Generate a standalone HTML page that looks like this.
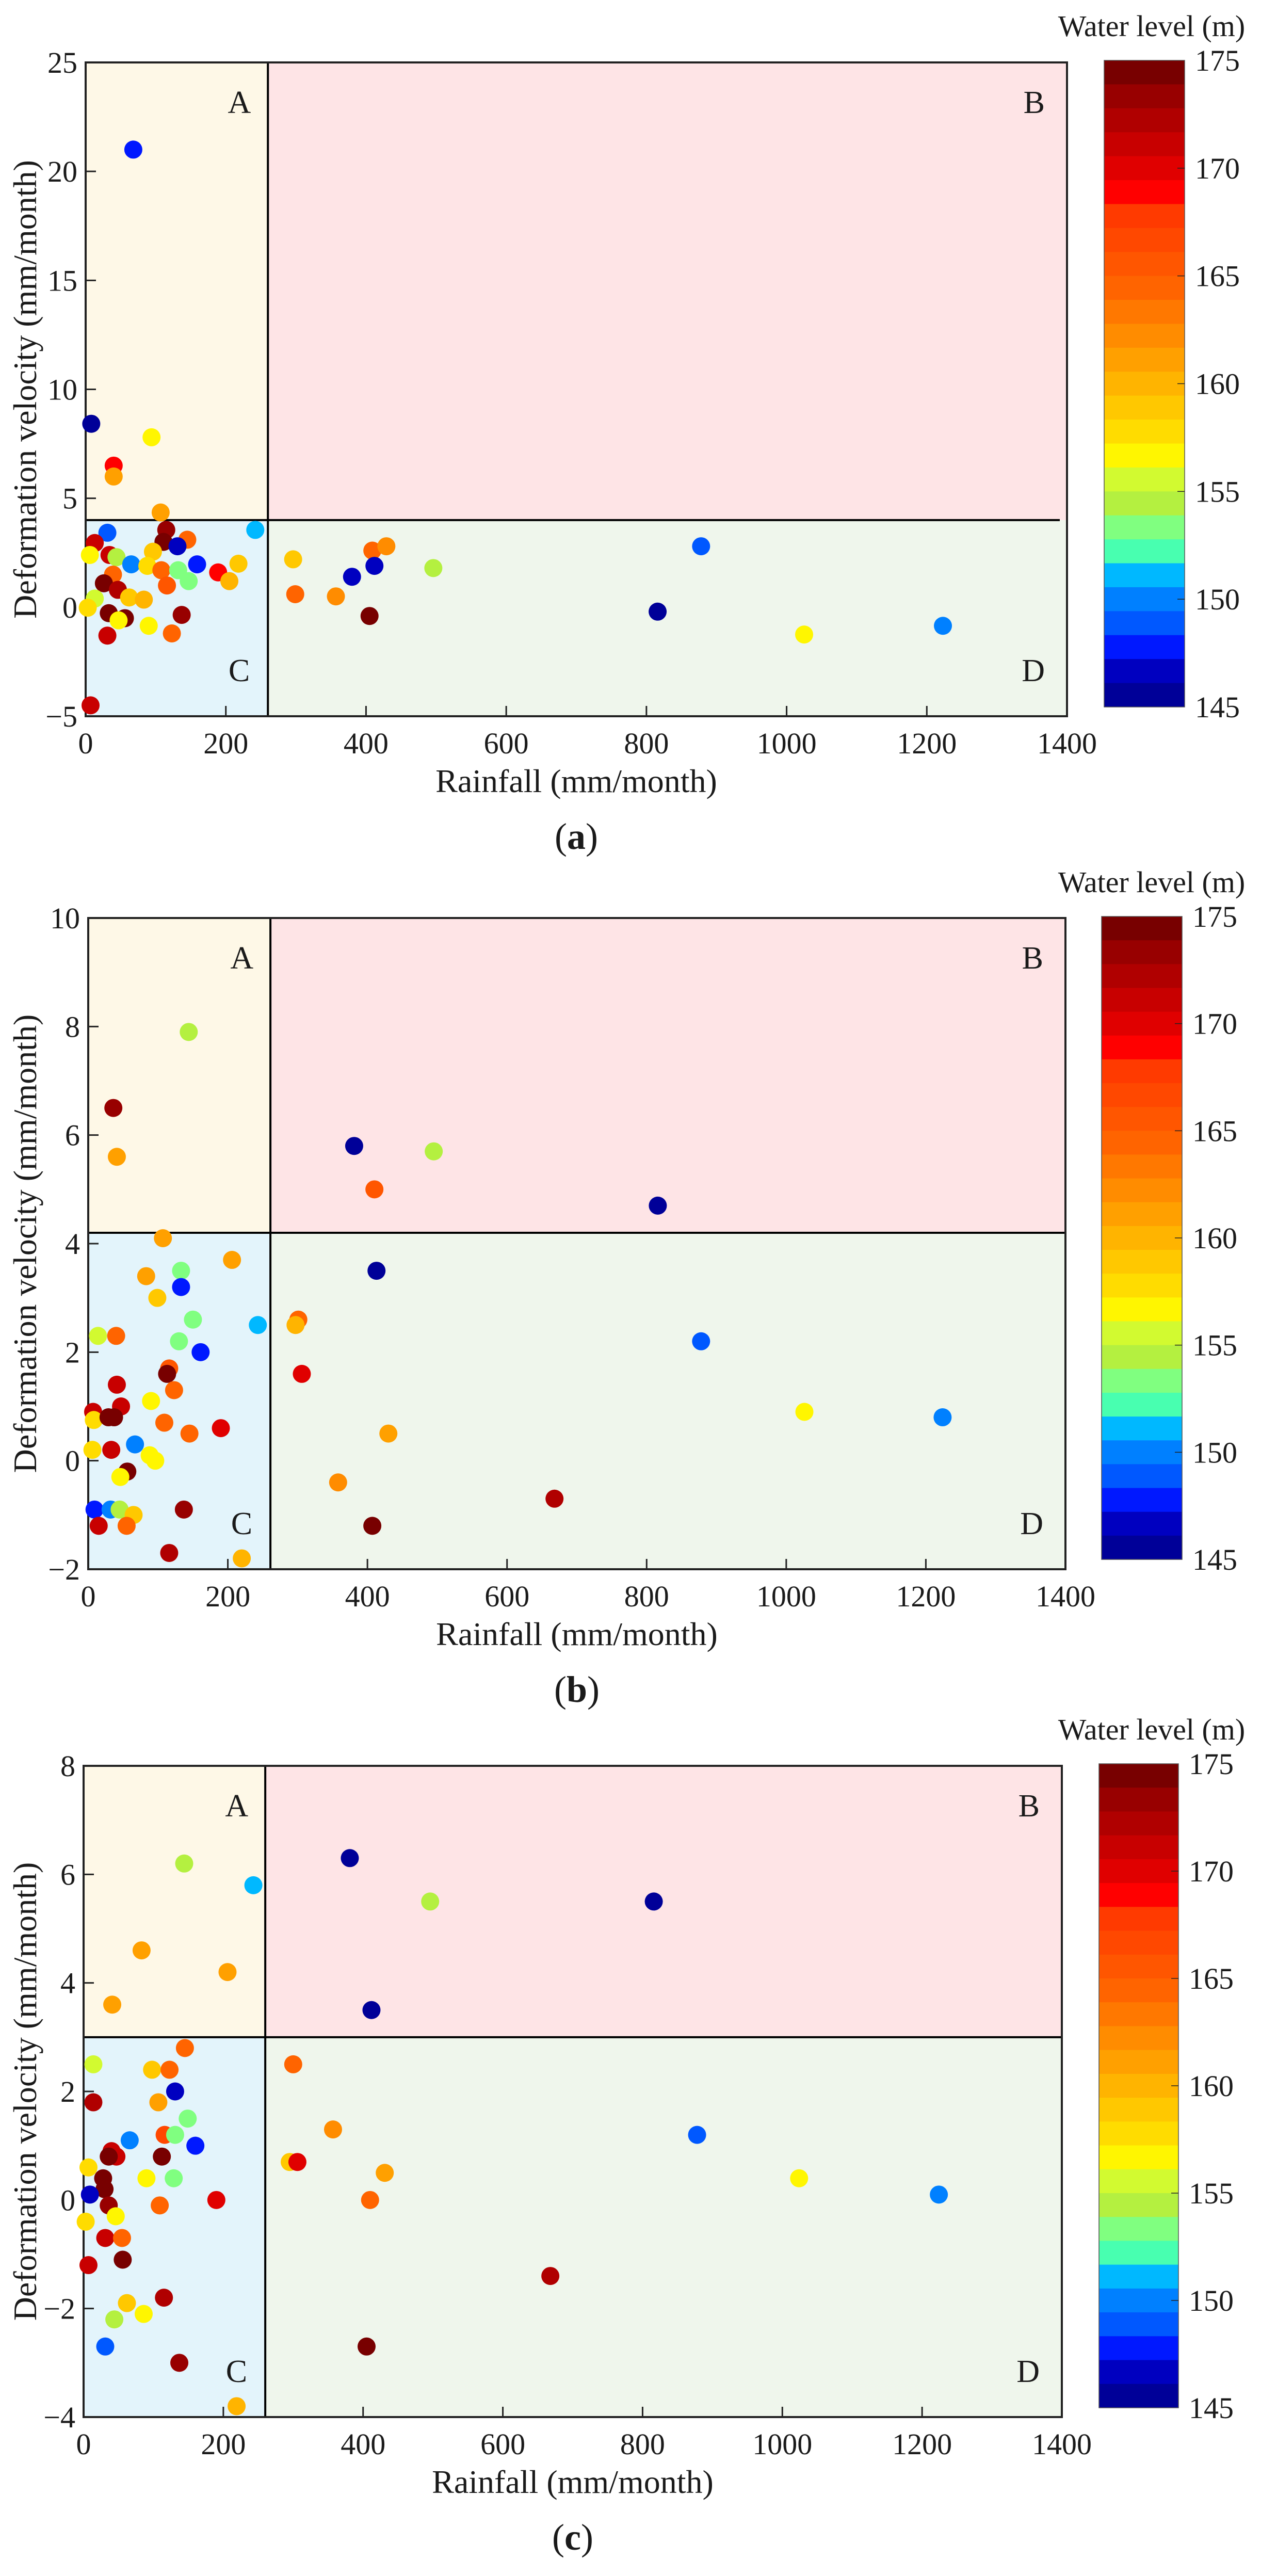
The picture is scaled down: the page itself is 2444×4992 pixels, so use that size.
<!DOCTYPE html>
<html><head><meta charset="utf-8">
<style>
html,body{margin:0;padding:0;background:#fff;}
svg{display:block;}
text{font-family:"Liberation Serif",serif;fill:#1a1a1a;}
</style></head>
<body>
<svg id="fig" width="2444" height="4992" viewBox="0 0 2444 4992" xmlns="http://www.w3.org/2000/svg" font-family="Liberation Serif, serif"></svg>
<script>
// ---- Panel (a) data ----
const rainA=[68,8,94,40,40,107,115,31,145,13,111,131,242,6,34,44,96,65,159,218,88,108,132,147,39,189,26,46,116,205,62,83,13,3,33,56,47,137,90,31,123,7,296,409,429,412,380,496,299,357,405,878,816,1025,1223];
const velA=[21.0,8.42,7.8,6.5,6.0,4.35,3.55,3.42,3.1,2.95,3.0,2.8,3.55,2.4,2.4,2.3,2.55,1.97,1.97,2.0,1.9,1.7,1.7,1.2,1.5,1.6,1.1,0.8,1.0,1.2,0.45,0.35,0.4,-0.02,-0.27,-0.5,-0.6,-0.35,-0.85,-1.3,-1.2,-4.5,2.2,2.6,2.8,1.9,1.4,1.8,0.6,0.5,-0.4,2.8,-0.2,-1.25,-0.85];
const levelA=[148,146,157,169,161,161,173,149,165,171,174,147,151,157,171,155,159,150,148,159,158,165,153,153,165,169,174,172,166,160,159,160,156,158,174,174,157,173,157,171,165,171,159,165,162,147,147,155,164,162,175,149,146,157,150];
// ---- Panel (b) data ----
const rainB=[144,36,41,381,495,410,816,107,206,83,133,133,99,150,243,14,40,130,161,116,113,41,123,90,47,7,8,29,37,109,190,145,67,6,33,88,96,56,46,9,32,45,65,137,15,55,116,220,413,301,297,306,430,358,407,668,878,1026,1224];
const velB=[7.9,6.5,5.6,5.8,5.7,5.0,4.7,4.1,3.7,3.4,3.5,3.2,3.0,2.6,2.5,2.3,2.3,2.2,2.0,1.7,1.6,1.4,1.3,1.1,1.0,0.9,0.75,0.8,0.8,0.7,0.6,0.5,0.3,0.2,0.2,0.1,0.0,-0.2,-0.3,-0.9,-0.9,-0.9,-1.0,-0.9,-1.2,-1.2,-1.7,-1.8,3.5,2.6,2.5,1.6,0.5,-0.4,-1.2,-0.7,2.2,0.9,0.8];
const levelB=[155,173,161,146,155,166,146,161,161,161,153,148,159,153,151,156,165,153,148,166,174,171,165,157,171,171,158,174,174,165,170,165,150,158,171,157,157,174,157,148,150,154,159,173,171,165,172,160,146,165,160,170,161,162,175,172,149,157,150];
// ---- Panel (c) data ----
const rainC=[144,243,83,206,41,381,496,816,412,145,14,98,123,131,14,107,149,116,131,66,160,40,47,36,112,7,28,90,129,30,9,36,109,190,46,3,31,55,56,7,115,62,86,44,31,137,219,300,357,295,306,431,410,405,668,878,1024,1224];
const velC=[6.2,5.8,4.6,4.2,3.6,6.3,5.5,5.5,3.5,2.8,2.5,2.4,2.4,2.0,1.8,1.8,1.5,1.2,1.2,1.1,1.0,0.9,0.8,0.8,0.8,0.6,0.4,0.4,0.4,0.2,0.1,-0.1,-0.1,0.0,-0.3,-0.4,-0.7,-0.7,-1.1,-1.2,-1.8,-1.9,-2.1,-2.2,-2.7,-3.0,-3.8,2.5,1.3,0.7,0.7,0.5,0.0,-2.7,-1.4,1.2,0.4,0.1];
const levelC=[155,151,161,161,161,146,155,146,146,165,156,159,165,147,172,161,153,167,153,150,148,171,171,174,174,158,174,157,153,174,147,173,165,170,157,158,171,165,174,171,172,159,157,155,149,173,160,165,162,159,170,161,165,175,172,149,157,150];
// ---- Axis ticks ----
const xTicks=[0,200,400,600,800,1000,1200,1400];
const yTicksA=[-5,0,5,10,15,20,25];
const yTicksB=[-2,0,2,4,6,8,10];
const yTicksC=[-4,-2,0,2,4,6,8];
const cbTicks=[145,150,155,160,165,170,175];
const cbColors=['#780000','#980000','#b00000','#c80000','#e00000','#ff0000','#ff3a00','#ff4800','#ff5600','#ff6400','#ff7800','#ff8c00','#ffa000','#ffb400','#ffc800','#ffdc00','#fff600','#d2fa30','#b4f040','#80ff80','#48ffb0','#00b8ff','#0080ff','#0058ff','#0018ff','#0000c0','#000098'];

const NS='http://www.w3.org/2000/svg';
const svg=document.getElementById('fig');
function mk(tag,attrs,parent){const e=document.createElementNS(NS,tag);for(const k in attrs)e.setAttribute(k,attrs[k]);(parent||svg).appendChild(e);return e;}
function colorFor(v){let i=Math.floor((175-v)/30*cbColors.length);if(i<0)i=0;if(i>=cbColors.length)i=cbColors.length-1;return cbColors[i];}

function panel(cfg){
  const g=mk('g',{});
  
  
  const L=cfg.L,R=cfg.R,T=cfg.T,B=cfg.B;
  const sx=v=>L+(v-0)/(1400-0)*(R-L);
  const sy=v=>B-(v-cfg.ymin)/(cfg.ymax-cfg.ymin)*(B-T);
  const xd=sx(cfg.xdiv),yd=sy(cfg.ydiv);
  const quads=[['quadrant-a',L,T,xd-L,yd-T,'#fef8e7'],['quadrant-b',xd,T,R-xd,yd-T,'#fee4e6'],['quadrant-c',L,yd,xd-L,B-yd,'#e3f4fb'],['quadrant-d',xd,yd,R-xd,B-yd,'#eff6ec']];
  quads.forEach(q=>{const r=mk('rect',{x:q[1],y:q[2],width:q[3],height:q[4],fill:q[5]},g);
    
    });
  xTicks.forEach(t=>{const x=sx(t);
    const l=mk('line',{x1:x,y1:B,x2:x,y2:B-20,stroke:'#222','stroke-width':3},g);
    
    
    const tx=mk('text',{x:x,y:B+72,'font-size':58,'text-anchor':'middle'},g);tx.textContent=t;
    
    });
  cfg.yTicks.forEach(t=>{const y=sy(t);
    const l=mk('line',{x1:L,y1:y,x2:L+20,y2:y,stroke:'#222','stroke-width':3},g);
    
    
    const tx=mk('text',{x:L-16,y:y+20,'font-size':58,'text-anchor':'end'},g);tx.textContent=(t<0?'\u2212'+(-t):t);
    
    });
  const v=mk('line',{x1:xd,y1:T,x2:xd,y2:B,stroke:'#000','stroke-width':4},g);
  
  
  const h=mk('line',{x1:L,y1:yd,x2:R-cfg.hshort,y2:yd,stroke:'#000','stroke-width':4},g);
  
  
  const fr=mk('rect',{x:L,y:T,width:R-L,height:B-T,fill:'none',stroke:'#222','stroke-width':4},g);
  
  
  [['A',xd-33,T+98],['B',R-43,T+98],['C',xd-35,B-68],['D',R-43,B-68]].forEach(a=>{
    const t=mk('text',{x:a[1],y:a[2],'font-size':62,'text-anchor':'end'},g);t.textContent=a[0];
    
    });
  cfg.rain.forEach((r,i)=>{
    const c=mk('circle',{cx:sx(r),cy:sy(cfg.vel[i]),r:17.5,fill:colorFor(cfg.level[i])},g);
    
    });
  const xt=mk('text',{x:(L+R)/2,y:B+147,'font-size':64,'text-anchor':'middle'},g);xt.textContent='Rainfall (mm/month)';
  
  
  const yc=(T+B)/2;
  const yt=mk('text',{x:70,y:yc,'font-size':64,'text-anchor':'middle',transform:'rotate(-90 70 '+yc+')'},g);yt.textContent='Deformation velocity (mm/month)';
  
  
  const pl=mk('text',{x:(L+R)/2,y:B+257,'font-size':72,'text-anchor':'middle'},g);
  
  
  const s1=mk('tspan',{},pl);s1.textContent='(';
  const s2=mk('tspan',{'font-weight':'bold'},pl);s2.textContent=cfg.id;
  const s3=mk('tspan',{},pl);s3.textContent=')';
  const cb=cfg.cb;const n=cbColors.length;const bh=(cb.bot-cb.top)/n;
  const cg=mk('g',{},g);
  
  
  cbColors.forEach((col,i)=>{const r=mk('rect',{x:cb.x,y:cb.top+i*bh,width:cb.w,height:bh+0.6,fill:col},cg);
    
    });
  mk('rect',{x:cb.x,y:cb.top,width:cb.w,height:cb.bot-cb.top,fill:'none',stroke:'#555','stroke-width':1.5},cg);
  cbTicks.forEach(t=>{const y=cb.bot-(t-145)/30*(cb.bot-cb.top);
    if(t>145&&t<175)mk('line',{x1:cb.x+cb.w-14,y1:y,x2:cb.x+cb.w,y2:y,stroke:'#222','stroke-width':1.5},cg);
    const tx=mk('text',{x:cb.x+cb.w+20,y:y+20,'font-size':58},cg);tx.textContent=t;
    
    });
  const ct=mk('text',{x:2232,y:cb.top-47,'font-size':58,'text-anchor':'middle'},cg);ct.textContent='Water level (m)';
  
  
}

panel({id:'a',L:166,R:2068,T:121,B:1388,ymin:-5,ymax:25,yTicks:yTicksA,xdiv:260,ydiv:4,hshort:14,rain:rainA,vel:velA,level:levelA,cb:{x:2140,w:156,top:117,bot:1370}});
panel({id:'b',L:171,R:2065,T:1779,B:3041,ymin:-2,ymax:10,yTicks:yTicksB,xdiv:261,ydiv:4.2,hshort:0,rain:rainB,vel:velB,level:levelB,cb:{x:2135,w:156,top:1776,bot:3022}});
panel({id:'c',L:162,R:2058,T:3422,B:4684,ymin:-4,ymax:8,yTicks:yTicksC,xdiv:260,ydiv:3,hshort:0,rain:rainC,vel:velC,level:levelC,cb:{x:2130,w:154,top:3418,bot:4666}});
</script>
</body></html>
